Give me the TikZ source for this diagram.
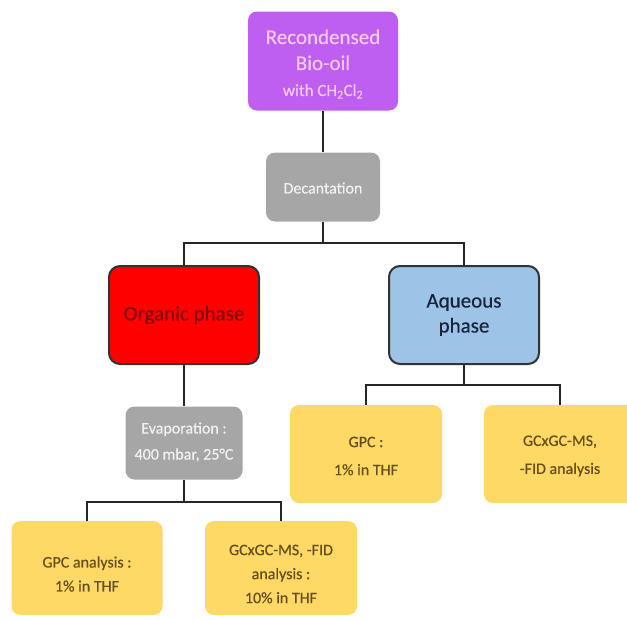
\documentclass[tikz,border=0pt]{standalone}
\usepackage{fontspec}
\setmainfont{Carlito}[UprightFeatures={FakeBold=0.4}]
\definecolor{purp}{RGB}{190,95,242}
\definecolor{purptext}{RGB}{246,200,242}
\definecolor{grbox}{RGB}{166,166,166}
\definecolor{grtext}{RGB}{242,242,242}
\definecolor{redbox}{RGB}{255,0,0}
\definecolor{redtext}{RGB}{130,0,0}
\definecolor{bluebox}{RGB}{157,195,230}
\definecolor{bluetext}{RGB}{25,35,60}
\definecolor{yelbox}{RGB}{255,217,102}
\definecolor{yeltext}{RGB}{100,78,25}
\definecolor{edge}{RGB}{50,50,50}
\tikzset{
  boxbase/.style={rectangle, rounded corners=9pt, inner sep=0pt, anchor=center},
  txt/.style={align=center, inner sep=0pt, anchor=center},
  purpbox/.style={boxbase, fill=purp, minimum width=150pt, minimum height=99pt},
  greybox/.style={boxbase, fill=grbox},
  phasebox/.style={boxbase, draw=edge, line width=2pt, rounded corners=11pt, minimum width=150pt, minimum height=98pt},
  yelbox/.style={boxbase, fill=yelbox, minimum width=152pt},
  yeltxt/.style={txt, text=yeltext},
  conn/.style={draw=black!85, line width=2pt}
}
\begin{document}
\begin{tikzpicture}[x=1pt,y=-1pt]
\useasboundingbox (0,0) rectangle (627,619);
\clip (0,0) rectangle (627,619);
% boxes
\node[purpbox] (top) at (323,61) {};
\node[greybox, minimum width=114pt, minimum height=69pt] (dec) at (323,187) {};
\node[phasebox, fill=redbox] (org) at (184,315) {};
\node[phasebox, fill=bluebox] (aq) at (464,315) {};
\node[greybox, minimum width=117pt, minimum height=73pt] (evap) at (184,443) {};
\node[yelbox, minimum height=98pt] (gpc2) at (366,454) {};
\node[yelbox, minimum height=98pt] (gcx2) at (560,454) {};
\node[yelbox, minimum width=151pt, minimum height=94pt] (gpc1) at (87,568) {};
\node[yelbox, minimum height=94pt] (gcx1) at (281,568) {};
% texts
\node[txt, text=purptext, font=\fontsize{21}{26}\selectfont] (topt) at (323,64) {Recondensed\\Bio-oil\\{\fontsize{17}{20}\selectfont with CH\textsubscript{2}Cl\textsubscript{2}}};
\node[txt, text=grtext, font=\fontsize{16}{20}\selectfont] (dect) at (323,188) {Decantation};
\node[txt, text=redtext, font=\fontsize{21}{26}\selectfont] (orgt) at (184,315) {Organic phase};
\node[txt, text=bluetext, font=\fontsize{21}{25}\selectfont] (aqt) at (464,315) {Aqueous\\phase};
\node[txt, text=grtext, font=\fontsize{16}{26}\selectfont] (evapt) at (184,442) {Evaporation :\\400 mbar, 25°C};
\node[yeltxt, font=\fontsize{16}{28}\selectfont] (gpc2t) at (366,456) {GPC :\\1\% in THF};
\node[yeltxt, font=\fontsize{16}{28}\selectfont] (gcx2t) at (560,456) {GCxGC-MS,\\-FID analysis};
\node[yeltxt, font=\fontsize{16}{24}\selectfont] (gpc1t) at (87,574) {GPC analysis :\\1\% in THF};
\node[yeltxt, font=\fontsize{16}{24}\selectfont] (gcx1t) at (281,574) {GCxGC-MS, -FID\\analysis :\\10\% in THF};
% connectors
\coordinate (b1) at (323,243);
\coordinate (b2) at (464,385);
\coordinate (b3) at (184,502);
\draw[conn] (top.south) -- (dec.north);
\draw[conn] (dec.south) -- (b1);
\draw[conn] (org.north) |- (b1) -| (aq.north);
\draw[conn] (org.south) -- (evap.north);
\draw[conn] (aq.south) -- (b2);
\draw[conn] (gpc2.north) |- (b2) -| (gcx2.north);
\draw[conn] (evap.south) -- (b3);
\draw[conn] (gpc1.north) |- (b3) -| (gcx1.north);
\end{tikzpicture}
\end{document}
